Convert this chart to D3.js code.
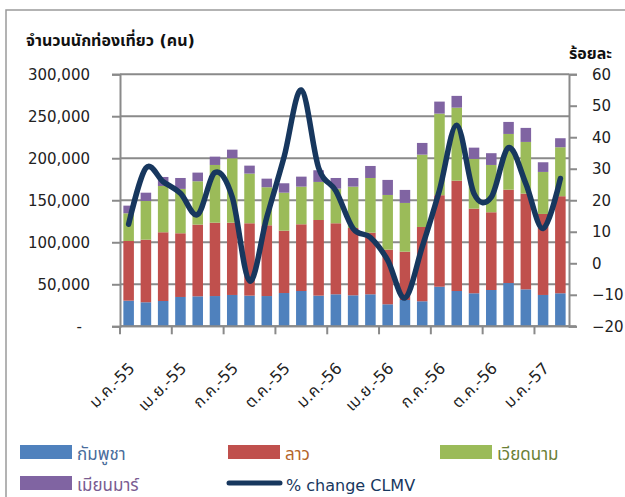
<!DOCTYPE html>
<html>
<head>
<meta charset="utf-8">
<script src="https://cdn.jsdelivr.net/npm/d3@7/dist/d3.min.js"></script>
<style>
  body { margin: 0; background: #fff; }
  svg text { font-family: Tahoma, "DejaVu Sans", "Noto Sans Thai", "Noto Sans", sans-serif; }
</style>
</head>
<body>
<svg id="chart" width="625" height="497"></svg>
<script>
// ---- data ----
const categories = [
  "ม.ค.-55","ก.พ.-55","มี.ค.-55","เม.ย.-55","พ.ค.-55","มิ.ย.-55","ก.ค.-55","ส.ค.-55","ก.ย.-55","ต.ค.-55","พ.ย.-55","ธ.ค.-55",
  "ม.ค.-56","ก.พ.-56","มี.ค.-56","เม.ย.-56","พ.ค.-56","มิ.ย.-56","ก.ค.-56","ส.ค.-56","ก.ย.-56","ต.ค.-56","พ.ย.-56","ธ.ค.-56",
  "ม.ค.-57","ก.พ.-57"
];
const cambodia = [30500,28600,30100,34900,35700,36000,37300,36500,36000,39600,42000,36500,38100,36900,38100,26200,31300,29800,47100,42000,39300,43200,51500,44000,37300,39300];
const laos     = [71000,74500,81800,75800,85300,87300,86000,86100,84200,74200,79400,90000,84500,80100,73300,65000,57500,88400,108900,131300,100700,92500,111100,113900,96400,115500];
const vietnam  = [33000,46100,55100,52800,51600,68700,76700,59100,45300,45200,44800,45300,41200,49200,65100,65100,58000,86100,97100,86900,59200,56300,66300,61500,50000,58300];
const myanmar  = [9100,9800,10700,13000,10300,9900,10200,9500,10200,11200,11900,13900,12700,10300,14300,17900,15500,13900,14300,14000,13400,14000,14300,16700,11500,10700];
const pctChange = [12.4,30.2,25.9,22.2,15.5,28.8,21.0,-5.6,14.6,33.7,55.0,30.3,23.0,11.0,8.2,1.0,-11.0,5.2,23.2,43.8,22.1,21.0,36.7,25.3,11.0,26.9];
const leftTicks = [0,50000,100000,150000,200000,250000,300000];
const rightTicks = [-20,-10,0,10,20,30,40,50,60];
const seriesNames = ["กัมพูชา","ลาว","เวียดนาม","เมียนมาร์"];
const lineName = "% change CLMV";
const titleLeft = "จำนวนนักท่องเที่ยว (คน)";
const titleRight = "ร้อยละ";

// ---- styles ----
const barColors = ["#4f81bd","#c0504d","#9bbb59","#8064a2"];
const legendTextColors = ["#4a6d9c","#b3652b","#6b7f36","#7a5c91"];
const lineColor = "#17375e";
const gridColor = "#8a8a8a";

const svg = d3.select("#chart");
svg.append("rect").attr("width",625).attr("height",497).attr("fill","#fff");
// outer frame
svg.append("path").attr("d","M6,497V10H625").attr("fill","none").attr("stroke","#9a9a9a").attr("stroke-width",1.5);

const plot = {left:120, right:569, top:74.2, bottom:326.3};

const x = d3.scaleBand().domain(d3.range(categories.length))
  .range([plot.left, plot.right]).paddingInner(0.39).paddingOuter(0.195);
const yL = d3.scaleLinear().domain([0,300000]).range([plot.bottom, plot.top]);
const yR = d3.scaleLinear().domain([-20,60]).range([plot.bottom, plot.top]);

// gridlines
svg.append("g").selectAll("line").data(leftTicks).join("line")
  .attr("x1",plot.left).attr("x2",plot.right)
  .attr("y1",d=>yL(d)).attr("y2",d=>yL(d))
  .attr("stroke",gridColor).attr("stroke-width",2);

// left axis
const axL = svg.append("g").attr("transform",`translate(${plot.left},0)`)
  .call(d3.axisLeft(yL).tickValues(leftTicks).tickSize(8).tickPadding(22)
    .tickFormat(d => d===0 ? "-" : d3.format(",")(d)));
axL.select(".domain").attr("stroke",gridColor).attr("stroke-width",2);
axL.selectAll(".tick line").attr("stroke",gridColor).attr("stroke-width",2);
axL.selectAll(".tick text").attr("font-size",15).attr("fill","#222")
  .attr("font-family","Tahoma, 'DejaVu Sans', sans-serif")
  .attr("dx", d => d===0 ? -8 : 0);

// right axis
const axR = svg.append("g").attr("transform",`translate(${plot.right},0)`)
  .call(d3.axisRight(yR).tickValues(rightTicks).tickSize(8).tickPadding(15));
axR.select(".domain").attr("stroke",gridColor).attr("stroke-width",2);
axR.selectAll(".tick line").attr("stroke",gridColor).attr("stroke-width",2);
axR.selectAll(".tick text").attr("font-size",15).attr("fill","#222")
  .attr("font-family","Tahoma, 'DejaVu Sans', sans-serif");

// bars (stacked)
const rows = categories.map((c,i)=>({i, v:[cambodia[i],laos[i],vietnam[i],myanmar[i]]}));
const stack = d3.stack().keys([0,1,2,3]).value((d,k)=>d.v[k]);
const stacked = stack(rows);
svg.append("g").selectAll("g").data(stacked).join("g")
  .attr("fill",(d,k)=>barColors[k])
  .selectAll("rect").data(d=>d).join("rect")
  .attr("x",d=>x(d.data.i)).attr("width",x.bandwidth())
  .attr("y",d=>yL(d[1])).attr("height",d=>yL(d[0])-yL(d[1]));

// x axis line + ticks
svg.append("line").attr("x1",plot.left).attr("x2",plot.right+7)
  .attr("y1",plot.bottom).attr("y2",plot.bottom).attr("stroke",gridColor).attr("stroke-width",2);
const labelIdx = d3.range(0,categories.length,3);
svg.append("g").selectAll("line").data(labelIdx).join("line")
  .attr("x1",i=>x(i)-x.step()*x.paddingInner()/2).attr("x2",i=>x(i)-x.step()*x.paddingInner()/2)
  .attr("y1",plot.bottom).attr("y2",plot.bottom+8)
  .attr("stroke",gridColor).attr("stroke-width",2);
svg.append("g").selectAll("text").data(labelIdx).join("text")
  .attr("transform",i=>`translate(${x(i)+x.bandwidth()/2+7},${plot.bottom+43}) rotate(-45)`)
  .attr("text-anchor","end")
  .attr("font-size",16).attr("fill","#222")
  .text(i=>categories[i]);

// line
const line = d3.line()
  .x((d,i)=>x(i)+x.bandwidth()/2)
  .y(d=>yR(d))
  .curve(d3.curveCardinal.tension(0));
svg.append("path").datum(pctChange).attr("d",line)
  .attr("fill","none").attr("stroke",lineColor).attr("stroke-width",5.5)
  .attr("stroke-linejoin","round").attr("stroke-linecap","round");

// titles
svg.append("text").attr("x",26).attr("y",46).attr("font-size",16).attr("font-weight","bold")
  .attr("fill","#111").text(titleLeft);
svg.append("text").attr("x",612).attr("y",59).attr("text-anchor","end").attr("font-size",16).attr("font-weight","bold")
  .attr("fill","#111").text(titleRight);

// legend
const legendItems = [
  {name:seriesNames[0], color:barColors[0], tc:legendTextColors[0], x:20, y:445},
  {name:seriesNames[1], color:barColors[1], tc:legendTextColors[1], x:228, y:445},
  {name:seriesNames[2], color:barColors[2], tc:legendTextColors[2], x:440, y:445},
  {name:seriesNames[3], color:barColors[3], tc:legendTextColors[3], x:20, y:476}
];
const lg = svg.append("g");
legendItems.forEach(it=>{
  lg.append("rect").attr("x",it.x).attr("y",it.y).attr("width",52).attr("height",14).attr("fill",it.color);
  lg.append("text").attr("x",it.x+57).attr("y",it.y+15).attr("font-size",17).attr("fill",it.tc).text(it.name);
});
lg.append("line").attr("x1",229).attr("x2",280).attr("y1",483).attr("y2",483)
  .attr("stroke",lineColor).attr("stroke-width",5).attr("stroke-linecap","round");
lg.append("text").attr("x",286).attr("y",491).attr("font-size",16).attr("fill",lineColor).text(lineName);
</script>
</body>
</html>
